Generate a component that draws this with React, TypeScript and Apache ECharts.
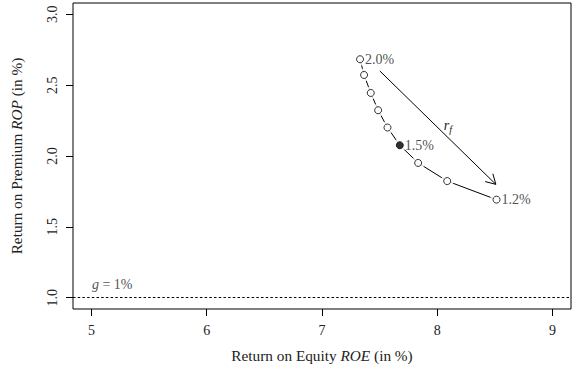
import React, { useEffect, useRef } from "react";
import * as echarts from "echarts";

// Risk-free rate for each point on the frontier, and the resulting ROE / ROP (in %)
const rfLabels = ["2.0%", "1.9%", "1.8%", "1.7%", "1.6%", "1.5%", "1.4%", "1.3%", "1.2%"];
const roe = [7.33, 7.365, 7.423, 7.487, 7.568, 7.675, 7.834, 8.086, 8.514];
const rop = [2.683, 2.572, 2.445, 2.323, 2.201, 2.076, 1.951, 1.823, 1.692];
const labelled = ["2.0%", "1.5%", "1.2%"];
const highlighted = "1.5%";

// Arrow showing the direction of decreasing r_f: [x0, y0, x1, y1]
const arrow = [7.502, 2.6, 8.508, 1.8];

// Growth rate reference
const growthRate = 1;
const growthLabelPos = [5.0, 1.094];

const xTicks = [5, 6, 7, 8, 9];
const yTicks = [1.0, 1.5, 2.0, 2.5, 3.0];

const FONT = "'Liberation Serif', 'Times New Roman', serif";
const TEXT = "#222";
const TITLE_SIZE = 15.3;

export default function App() {
  const ref = useRef<HTMLDivElement>(null);

  useEffect(() => {
    if (!ref.current) return;
    const chart = echarts.init(ref.current, null, { renderer: "svg" });

    const points = roe.map((x, i) => [x, rop[i]]);

    chart.setOption({
      animation: false,
      backgroundColor: "#fff",
      textStyle: { fontFamily: FONT, color: TEXT },
      grid: {
        left: 73,
        right: 1,
        top: 3,
        bottom: 65,
        show: true,
        borderColor: "#000",
        borderWidth: 1,
        backgroundColor: "transparent",
      },
      xAxis: {
        type: "value",
        min: 4.84,
        max: 9.16,
        axisLine: { show: false },
        splitLine: { show: false },
        axisTick: {
          show: true,
          inside: false,
          length: 7,
          customValues: xTicks,
          lineStyle: { color: "#000", width: 1 },
        },
        axisLabel: {
          customValues: xTicks,
          margin: 14,
          fontSize: 14,
          fontFamily: FONT,
          color: TEXT,
          formatter: (v: number) => String(v),
        },
        name: "Return on Equity {i|ROE} (in %)",
        nameLocation: "middle",
        nameGap: 39,
        nameTextStyle: {
          fontSize: TITLE_SIZE,
          fontFamily: FONT,
          color: TEXT,
          rich: { i: { fontStyle: "italic", fontSize: TITLE_SIZE, fontFamily: FONT, color: TEXT } },
        },
      },
      yAxis: {
        type: "value",
        min: 0.92,
        max: 3.08,
        axisLine: { show: false },
        splitLine: { show: false },
        axisTick: {
          show: true,
          inside: false,
          length: 7,
          customValues: yTicks,
          lineStyle: { color: "#000", width: 1 },
        },
        axisLabel: {
          customValues: yTicks,
          rotate: 90,
          margin: 14,
          fontSize: 14,
          fontFamily: FONT,
          color: TEXT,
          formatter: (v: number) => v.toFixed(1),
        },
        name: "Return on Premium {i|ROP} (in %)",
        nameLocation: "middle",
        nameGap: 49,
        nameRotate: 90,
        nameTextStyle: {
          fontSize: TITLE_SIZE,
          fontFamily: FONT,
          color: TEXT,
          rich: { i: { fontStyle: "italic", fontSize: TITLE_SIZE, fontFamily: FONT, color: TEXT } },
        },
      },
      series: [
        {
          // connecting segments
          type: "line",
          data: points,
          symbol: "none",
          lineStyle: { color: "#000", width: 1 },
          z: 1,
          markLine: {
            silent: true,
            symbol: ["none", "none"],
            label: { show: false },
            lineStyle: { color: "#000", width: 1, type: [2.5, 2.2] },
            data: [{ yAxis: growthRate }],
          },
        },
        {
          // white halos that open gaps in the line around each point
          type: "scatter",
          data: points,
          symbol: "circle",
          symbolSize: 13,
          itemStyle: { color: "#fff", borderWidth: 0 },
          silent: true,
          z: 2,
        },
        {
          type: "scatter",
          data: points.map((p, i) => ({
            value: p,
            name: rfLabels[i],
            itemStyle: {
              color: rfLabels[i] === highlighted ? "#000" : "#fff",
            },
            label: { show: labelled.includes(rfLabels[i]) },
          })),
          symbol: "circle",
          symbolSize: 7,
          itemStyle: { borderColor: "#000", borderWidth: 1 },
          label: {
            position: "right",
            distance: 1,
            formatter: (p: any) => p.name,
            fontSize: 14,
            fontFamily: FONT,
            color: TEXT,
          },
          z: 3,
        },
        {
          // growth-rate annotation
          type: "scatter",
          data: [growthLabelPos],
          symbol: "circle",
          symbolSize: 1,
          itemStyle: { color: "rgba(0,0,0,0)" },
          silent: true,
          label: {
            show: true,
            position: "right",
            distance: 0,
            formatter: "{i|g} = 1%",
            fontSize: 14,
            fontFamily: FONT,
            color: TEXT,
            rich: { i: { fontStyle: "italic", fontSize: 14, fontFamily: FONT, color: TEXT } },
          },
          z: 3,
        },
        {
          // arrow with r_f label
          type: "custom",
          data: [arrow],
          encode: { x: [0, 2], y: [1, 3] },
          clip: false,
          z: 4,
          renderItem: (_params: any, api: any) => {
            const p0 = api.coord([api.value(0), api.value(1)]);
            const p1 = api.coord([api.value(2), api.value(3)]);
            const ang = Math.atan2(p1[1] - p0[1], p1[0] - p0[0]);
            const len = 11;
            const spread = Math.PI / 6;
            const h1 = [p1[0] - len * Math.cos(ang - spread), p1[1] - len * Math.sin(ang - spread)];
            const h2 = [p1[0] - len * Math.cos(ang + spread), p1[1] - len * Math.sin(ang + spread)];
            const mx = (p0[0] + p1[0]) / 2;
            const my = (p0[1] + p1[1]) / 2;
            return {
              type: "group",
              children: [
                {
                  type: "line",
                  shape: { x1: p0[0], y1: p0[1], x2: p1[0], y2: p1[1] },
                  style: { stroke: "#000", lineWidth: 1 },
                },
                {
                  type: "polyline",
                  shape: { points: [h1, p1, h2] },
                  style: { stroke: "#000", lineWidth: 1, fill: null },
                },
                {
                  type: "text",
                  x: mx + 6,
                  y: my - 2,
                  style: {
                    text: "{r|r}{f|f}",
                    textAlign: "left",
                    textVerticalAlign: "middle",
                    rich: {
                      r: { fontStyle: "italic", fontSize: 14, fontFamily: FONT, fill: TEXT },
                      f: {
                        fontStyle: "italic",
                        fontSize: 10,
                        fontFamily: FONT,
                        fill: TEXT,
                        verticalAlign: "bottom",
                        padding: [8, 0, 0, 0],
                      },
                    },
                  },
                },
              ],
            };
          },
        },
      ],
    });

    return () => chart.dispose();
  }, []);

  return (
    <div
      ref={ref}
      style={{ position: "absolute", left: 0, top: 0, width: 572, height: 374 }}
    />
  );
}
